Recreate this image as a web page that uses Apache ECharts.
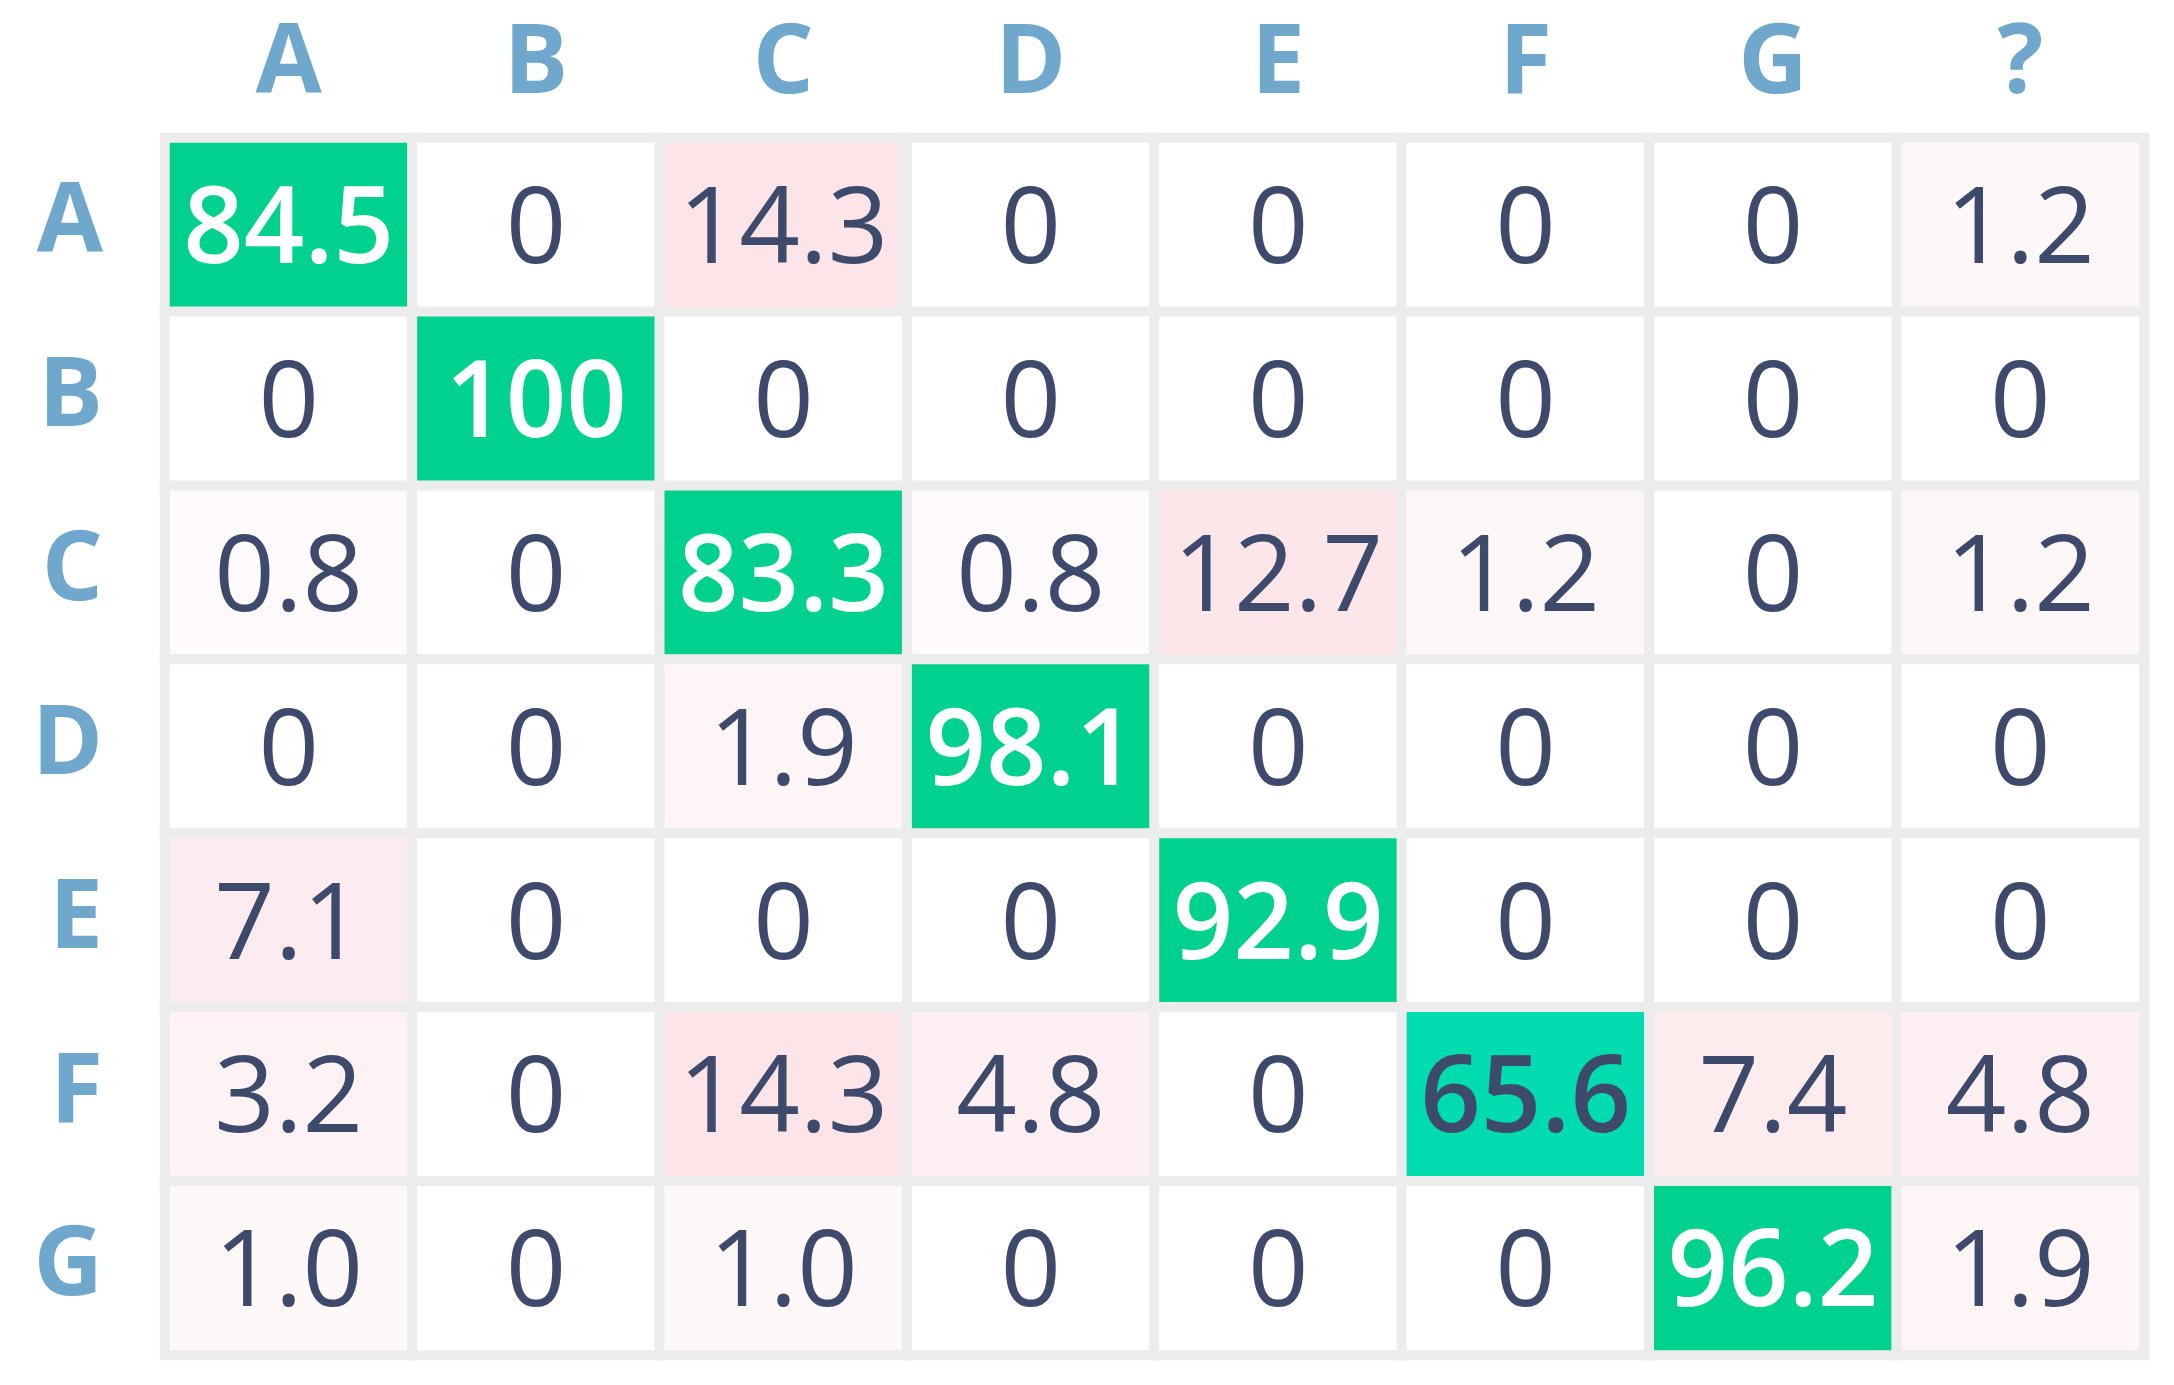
<!DOCTYPE html>
<html>
<head>
<meta charset="utf-8">
<title>Confusion matrix</title>
<style>html,body{margin:0;padding:0;width:100%;height:100%;background:#fff;} #main{width:2174px;height:1385px;}</style>
</head>
<body>
<div id="main"></div>
<script src="https://cdn.jsdelivr.net/npm/echarts@6/dist/echarts.min.js"></script>
<script>
var colLabels = ['A', 'B', 'C', 'D', 'E', 'F', 'G', '?'];
var rowLabels = ['A', 'B', 'C', 'D', 'E', 'F', 'G'];
var rowA = ['84.5', '0', '14.3', '0', '0', '0', '0', '1.2'];
var rowB = ['0', '100', '0', '0', '0', '0', '0', '0'];
var rowC = ['0.8', '0', '83.3', '0.8', '12.7', '1.2', '0', '1.2'];
var rowD = ['0', '0', '1.9', '98.1', '0', '0', '0', '0'];
var rowE = ['7.1', '0', '0', '0', '92.9', '0', '0', '0'];
var rowF = ['3.2', '0', '14.3', '4.8', '0', '65.6', '7.4', '4.8'];
var rowG = ['1.0', '0', '1.0', '0', '0', '0', '96.2', '1.9'];
var rows = [rowA, rowB, rowC, rowD, rowE, rowF, rowG];

function pink(v) {
  // white -> light pink, sqrt so small values still tint
  var t = Math.sqrt(Math.min(v / 14.3, 1));
  var r = 255 - Math.round(3 * t), g = 255 - Math.round(27 * t), b = 255 - Math.round(23 * t);
  return 'rgb(' + r + ',' + g + ',' + b + ')';
}

var data = [];
rows.forEach(function (row, r) {
  row.forEach(function (s, c) {
    var v = parseFloat(s);
    var diag = r === c;
    var fill = diag ? (v < 70 ? '#00dcb0' : '#00d18e') : pink(v);
    var txt = diag && v >= 70 ? '#ffffff' : '#3d4a6b';
    data.push({
      value: [c, r, v],
      label: { formatter: s, color: txt, fontWeight: diag ? 600 : 'normal' },
      itemStyle: { color: fill }
    });
  });
});

var chart = echarts.init(document.getElementById('main'));
chart.setOption({
  animation: false,
  grid: { left: 165, right: 30, top: 138, bottom: 30, show: true, backgroundColor: '#ececec', borderWidth: 0 },
  xAxis: {
    type: 'category', data: colLabels, position: 'top',
    axisLine: { show: false }, axisTick: { show: false }, splitLine: { show: false },
    axisLabel: { color: '#6fa8cc', fontSize: 96, fontWeight: 'bold', fontFamily: 'Open Sans', margin: 24 }
  },
  yAxis: {
    type: 'category', data: rowLabels, inverse: true,
    axisLine: { show: false }, axisTick: { show: false }, splitLine: { show: false },
    axisLabel: { color: '#6fa8cc', fontSize: 96, fontWeight: 'bold', fontFamily: 'Open Sans', margin: 62 }
  },
  series: [{
    type: 'heatmap',
    data: data,
    itemStyle: { borderColor: '#ececec', borderWidth: 10 },
    label: { show: true, fontSize: 106, fontFamily: 'Open Sans', offset: [0, 8] },
    emphasis: { disabled: true }
  }]
});
</script>
</body>
</html>
